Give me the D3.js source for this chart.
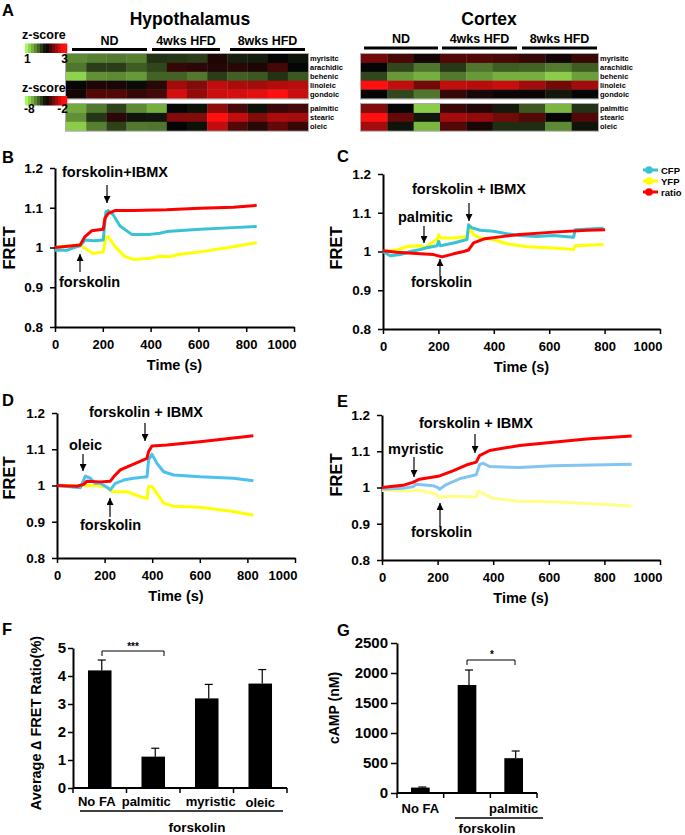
<!DOCTYPE html>
<html><head><meta charset="utf-8">
<script src="https://cdn.jsdelivr.net/npm/d3@7"></script>
<style>
body{margin:0;background:#fff}
svg{font-family:"Liberation Sans",Arial,sans-serif;font-weight:bold}
</style></head>
<body><svg id="c" width="685" height="835"></svg>
<script>
// ---------------- DATA ----------------
const topAcids = ["myrisitc","arachidic","behenic","linoleic","gondoic"];
const bottomAcids = ["palmitic","stearic","oleic"];
const groups = ["ND","4wks HFD","8wks HFD"];
// heat values (-1 green .. 0 black .. 1 red), Hypothalamus 12 samples
const hypoTop = [
 [-0.63,-0.58,-0.55,-0.58,-0.21,-0.23,-0.26,0.10,-0.12,-0.11,0.00,-0.07],
 [-0.53,-0.26,-0.26,-0.41,-0.31,0.19,0.16,0.12,0.14,0.10,0.25,0.00],
 [-0.97,-0.66,-0.63,-0.70,-0.44,-0.44,-0.55,-0.26,-0.43,-0.39,-0.21,-0.39],
 [0.02,0.10,0.08,-0.03,0.14,0.63,0.50,0.75,0.66,0.63,0.69,0.72],
 [0.06,0.31,0.31,0.19,0.25,0.82,0.56,0.78,0.82,0.88,1.00,0.78]];
const hypoBottom = [
 [-0.78,-0.55,-0.29,-0.63,-0.80,0.00,-0.06,0.56,0.27,-0.06,0.21,0.27],
 [-0.66,-0.23,0.14,-0.07,-0.08,0.50,0.50,1.00,0.75,0.50,0.66,0.63],
 [-0.95,-0.58,-0.29,-0.55,-0.53,0.00,-0.06,0.75,0.31,0.14,0.38,0.19]];
// Cortex 9 samples
const cortexTop = [
 [0.44,0.27,0.06,0.31,0.31,0.27,0.19,0.06,0.21],
 [0.00,-0.31,-0.53,-0.24,-0.53,-0.41,-0.44,-0.55,-0.41],
 [-0.31,-0.70,-0.80,-0.55,-0.70,-0.80,-0.80,-0.95,-0.73],
 [1.00,0.75,0.44,0.75,0.72,0.78,0.63,0.44,0.63],
 [0.00,-0.31,-0.53,0.19,0.08,0.03,0.03,-0.09,0.00]];
const cortexBottom = [
 [0.50,0.00,-0.95,0.21,0.12,-0.10,-0.39,-0.84,-0.21],
 [1.00,0.38,-0.08,0.63,0.56,0.44,0.31,0.00,0.31],
 [0.63,-0.07,-0.84,0.31,0.08,-0.19,-0.19,-0.63,-0.07]];

// FRET traces [time(s), value]
const bRatio=[[0,1.0],[105,1.006],[125,1.027],[153,1.042],[202,1.046],[209,1.074],[223,1.086],[251,1.093],[328,1.093],[467,1.095],[607,1.099],[746,1.101],[844,1.106]];
const bCFP=[[0,0.993],[49,0.993],[80,1.0],[105,1.004],[125,1.019],[160,1.017],[202,1.019],[213,1.09],[223,1.093],[244,1.082],[272,1.054],[321,1.033],[397,1.033],[439,1.036],[467,1.04],[607,1.046],[746,1.05],[844,1.053]];
const bYFP=[[0,1.0],[105,1.006],[125,0.998],[160,0.985],[202,0.989],[213,1.027],[223,1.027],[251,1.002],[293,0.977],[328,0.97],[397,0.973],[439,0.978],[481,0.977],[523,0.983],[607,0.989],[746,1.002],[844,1.012]];

const cRatio=[[0,1.002],[50,0.998],[135,0.994],[183,0.992],[213,0.986],[255,0.994],[291,1.0],[309,1.004],[327,1.022],[363,1.032],[435,1.039],[495,1.044],[615,1.05],[736,1.055],[802,1.056]];
const cCFP=[[0,1.0],[26,0.989],[63,0.992],[99,1.0],[135,1.005],[153,1.009],[195,1.015],[201,1.026],[207,1.015],[255,1.022],[303,1.031],[309,1.069],[321,1.061],[351,1.055],[399,1.052],[447,1.046],[495,1.041],[555,1.039],[615,1.041],[688,1.037],[694,1.056],[796,1.06]];
const cYFP=[[0,1.0],[50,1.004],[87,1.013],[135,1.015],[153,1.009],[171,1.02],[195,1.031],[201,1.043],[207,1.035],[255,1.035],[303,1.039],[315,1.061],[327,1.043],[351,1.035],[399,1.031],[447,1.02],[519,1.012],[615,1.009],[688,1.005],[694,1.015],[796,1.018]];

const dRatio=[[0,1.0],[84,0.998],[112,1.003],[126,1.012],[182,1.01],[224,1.012],[238,1.024],[266,1.043],[322,1.059],[378,1.075],[385,1.094],[399,1.109],[462,1.112],[601,1.121],[741,1.131],[825,1.137]];
const dCFP=[[0,1.0],[42,0.997],[98,0.994],[119,1.026],[140,1.02],[161,1.006],[182,1.006],[210,0.995],[224,0.988],[245,1.006],[280,1.015],[322,1.02],[378,1.024],[385,1.071],[399,1.086],[420,1.061],[448,1.038],[490,1.029],[601,1.024],[741,1.02],[825,1.013]];
const dYFP=[[0,1.0],[84,1.0],[168,1.0],[210,0.995],[231,0.983],[294,0.983],[350,0.969],[378,0.964],[385,0.997],[399,0.997],[420,0.978],[448,0.951],[490,0.943],[601,0.94],[741,0.928],[825,0.918]];

const eRatio=[[0,1.0],[75,1.006],[111,1.014],[135,1.023],[207,1.032],[255,1.046],[303,1.062],[339,1.07],[351,1.088],[387,1.102],[495,1.116],[615,1.125],[736,1.134],[898,1.142]];
const eCFP=[[0,0.995],[75,0.998],[111,1.002],[123,1.009],[183,1.005],[201,1.0],[207,0.995],[231,1.008],[279,1.024],[339,1.035],[351,1.063],[363,1.067],[387,1.058],[495,1.055],[615,1.06],[898,1.064]];
const eYFP=[[0,0.992],[111,0.99],[123,0.994],[195,0.982],[207,0.972],[231,0.976],[339,0.974],[345,0.99],[363,0.984],[399,0.97],[495,0.962],[615,0.961],[736,0.956],[898,0.949]];

const fretTicks=[0.8,0.9,1,1.1,1.2];
const timeTicks=[0,200,400,600,800,1000];

const fCats=["No FA","palmitic","myristic","oleic"];
const fMean=[4.2,1.12,3.2,3.73];
const fErr=[0.37,0.3,0.5,0.5];
const fTicks=[0,1,2,3,4,5];

const gCats=["No FA","forskolin","palmitic"];
const gMean=[90,1800,580];
const gErr=[10,250,120];
const gTicks=[0,500,1000,1500,2000,2500];

// ---------------- DRAW ----------------
const svg=d3.select("#c");
const heat=d3.scaleLinear().domain([-1,0,1]).range(["#92d84f","#050505","#ff1010"]);

function txt(x,y,s,size,anchor,extra){
  const t=svg.append("text").attr("x",x).attr("y",y).attr("font-size",size)
    .attr("text-anchor",anchor||"start").text(s);
  if(extra) extra(t);
  return t;
}
// panel letters
[["A",2,16],["B",2,163],["C",337,162],["D",2,406],["E",337,407],["F",2,635],["G",337,636]]
 .forEach(d=>txt(d[1],d[2],d[0],16.5));

// ---- Heatmaps ----
function drawHeat(x0,x1,topData,botData,labelX,lines,lineY,labY,title,titleX){
  const n=topData[0].length;
  const xs=d3.scaleBand().domain(d3.range(n)).range([x0,x1]);
  const yT=d3.scaleBand().domain(topAcids).range([54,98.5]);
  const yB=d3.scaleBand().domain(bottomAcids).range([104,130.7]);
  [[topData,topAcids,yT],[botData,bottomAcids,yB]].forEach(([data,labs,ys])=>{
    data.forEach((row,i)=>{
      svg.selectAll(null).data(row).enter().append("rect")
        .attr("x",(d,j)=>xs(j)).attr("y",ys(labs[i]))
        .attr("width",xs.bandwidth()+0.3).attr("height",ys.bandwidth()+0.3)
        .attr("fill",d=>heat(d));
      txt(labelX,ys(labs[i])+ys.bandwidth()/2+2.7,labs[i],7.5);
    });
    svg.append("rect").attr("x",x0-0.5).attr("y",ys.range()[0]-0.5)
      .attr("width",x1-x0+1).attr("height",ys.range()[1]-ys.range()[0]+1)
      .attr("fill","none").attr("stroke","#aaa").attr("stroke-width",1);
  });
  lines.forEach((l,i)=>{
    svg.append("line").attr("x1",l[0]).attr("x2",l[1]).attr("y1",lineY).attr("y2",lineY)
      .attr("stroke","#000").attr("stroke-width",3);
    txt((l[0]+l[1])/2,labY,groups[i],12.5,"middle");
  });
  txt(titleX,25,title,17.5,"middle");
}
drawHeat(66,308,hypoTop,hypoBottom,310,[[72,147],[152,220],[230,305]],49.5,45,"Hypothalamus",190);
drawHeat(361,598,cortexTop,cortexBottom,600,[[364,438],[442,517],[522,597]],48,43,"Cortex",489);

// z-score legends
function zLegend(ty,by,ly,lo,hi){
  txt(22,ty,"z-score",12.5);
  const steps=d3.range(14).map(i=>-1.15+i*2.3/13);
  const bx=d3.scaleBand().domain(d3.range(14)).range([25,67]);
  svg.selectAll(null).data(steps).enter().append("rect")
    .attr("x",(d,i)=>bx(i)).attr("y",by).attr("width",bx.bandwidth()+0.3).attr("height",9.5)
    .attr("fill",d=>heat(d));
  txt(24,ly,lo,12);
  txt(68,ly,hi,12,"end");
}
zLegend(39,43.5,63,"1","3");
zLegend(92,96,113,"-8","-2");

// ---- FRET panels ----
const defs=svg.append("defs");
defs.append("marker").attr("id","ah").attr("viewBox","0 0 10 10").attr("refX",10).attr("refY",5)
  .attr("markerWidth",7).attr("markerHeight",7).attr("markerUnits","userSpaceOnUse").attr("orient","auto")
  .append("path").attr("d","M0,0L10,5L0,10Z").attr("fill","#000");

function styleAxis(a,fs){
  a.selectAll("text").attr("font-size",fs).attr("font-family","Liberation Sans, Arial").attr("font-weight","bold").attr("fill","#000");
  a.select(".domain").attr("stroke-width",2);
  a.selectAll(".tick line").attr("stroke-width",1.5);
}

function fretPanel(cfg){
  const x=d3.scaleLinear().domain([0,1000]).range([cfg.x0,cfg.x1]);
  const y=d3.scaleLinear().domain([0.8,1.2]).range([cfg.yb,cfg.yt]);
  const ax=svg.append("g").attr("transform",`translate(0,${cfg.yb})`)
    .call(d3.axisBottom(x).tickValues(timeTicks).tickSize(5).tickPadding(8).tickSizeOuter(0).tickFormat(d3.format("d")));
  const ay=svg.append("g").attr("transform",`translate(${cfg.x0},0)`)
    .call(d3.axisLeft(y).tickValues(fretTicks).tickSize(5).tickPadding(7).tickSizeOuter(0)
      .tickFormat(d=>d===1?"1":d3.format(".1f")(d)));
  styleAxis(ax,13); styleAxis(ay,13.5);
  // last label kept inside chart area (as in the original)
  ax.selectAll(".tick").filter(d=>d===1000).select("text").attr("text-anchor","end").attr("x",2);
  const line=d3.line().x(d=>x(d[0])).y(d=>y(d[1]));
  [[cfg.yfp,cfg.cy],[cfg.cfp,cfg.cc],[cfg.ratio,"#ff0000"]].forEach(([data,col])=>{
    svg.append("path").attr("d",line(data)).attr("fill","none").attr("stroke",col)
      .attr("stroke-width",3).attr("stroke-linejoin","round");
  });
  txt((cfg.x0+cfg.x1)/2,cfg.yb+42.5,"Time (s)",14.5,"middle");
  txt(0,0,"FRET",16.5,"middle",t=>t.attr("transform",`translate(${cfg.fretX},${cfg.fretY}) rotate(-90)`));
  cfg.notes.forEach(n=>txt(n[1],n[2],n[0],14.5));
  cfg.arrows.forEach(a=>svg.append("line").attr("x1",a[0]).attr("x2",a[0]).attr("y1",a[1]).attr("y2",a[2])
    .attr("stroke","#000").attr("stroke-width",1.2).attr("marker-end","url(#ah)"));
}

fretPanel({x0:55,x1:294,yt:168,yb:327,ratio:bRatio,cfp:bCFP,yfp:bYFP,cc:"#38c2d6",cy:"#ffff00",
  fretX:15,fretY:248,
  notes:[["forskolin+IBMX",62,177],["forskolin",59,287]],
  arrows:[[107,185,203],[80,272,254]]});
fretPanel({x0:383,x1:660,yt:174,yb:329,ratio:cRatio,cfp:cCFP,yfp:cYFP,cc:"#38c2d6",cy:"#ffff00",
  fretX:342,fretY:248,
  notes:[["palmitic",398,222],["forskolin + IBMX",412,194],["forskolin",411,287]],
  arrows:[[424,226,243],[469,203,221],[440,276,259]]});
fretPanel({x0:57,x1:295,yt:413,yb:558,ratio:dRatio,cfp:dCFP,yfp:dYFP,cc:"#4cc0f0",cy:"#ffff00",
  fretX:15,fretY:478,
  notes:[["oleic",69,450],["forskolin + IBMX",89,417],["forskolin",80,530]],
  arrows:[[83,454,471],[145,423,441],[110,517,498]]});
fretPanel({x0:382,x1:660,yt:415,yb:560,ratio:eRatio,cfp:eCFP,yfp:eYFP,cc:"#84c4f2",cy:"#ffff88",
  fretX:342,fretY:475,
  notes:[["myristic",388,454],["forskolin + IBMX",419,428],["forskolin",411,537]],
  arrows:[[414,457,477],[475,434,453],[440,527,503]]});

// legend C
[["CFP","#38c2d6",170],["YFP","#ffff00",181],["ratio","#ff0000",192]].forEach(l=>{
  svg.append("line").attr("x1",643).attr("x2",658).attr("y1",l[2]).attr("y2",l[2]).attr("stroke",l[1]).attr("stroke-width",3);
  svg.append("circle").attr("cx",649).attr("cy",l[2]).attr("r",3.8).attr("fill",l[1]);
  txt(661,l[2]+3.5,l[0],9.5);
});

// ---- Bar panels ----
function barPanel(cfg){
  const x=d3.scaleBand().domain(cfg.cats).range([cfg.x0,cfg.x1]).paddingInner(cfg.pi).paddingOuter(cfg.po);
  const y=d3.scaleLinear().domain([0,cfg.max]).range([cfg.yb,cfg.yt]);
  const ay=svg.append("g").attr("transform",`translate(${cfg.x0},0)`)
    .call(d3.axisLeft(y).tickValues(cfg.ticks).tickSize(cfg.ts).tickPadding(cfg.tp).tickSizeOuter(0).tickFormat(d3.format("d")));
  styleAxis(ay,15);
  svg.append("line").attr("x1",cfg.x0).attr("x2",cfg.x1).attr("y1",cfg.yb).attr("y2",cfg.yb).attr("stroke","#000").attr("stroke-width",2);
  const step=x.step();
  d3.range(cfg.cats.length+1).forEach(i=>{
    const xx=cfg.x0+i*step;
    svg.append("line").attr("x1",xx).attr("x2",xx).attr("y1",cfg.yb).attr("y2",cfg.yb+5).attr("stroke","#000").attr("stroke-width",1.5);
  });
  cfg.cats.forEach((c,i)=>{
    const cx=x(c)+x.bandwidth()/2, ex=cx+2;
    svg.append("line").attr("x1",ex).attr("x2",ex).attr("y1",y(cfg.mean[i])).attr("y2",y(cfg.mean[i]+cfg.err[i])).attr("stroke","#000").attr("stroke-width",1.2);
    svg.append("line").attr("x1",ex-4).attr("x2",ex+4).attr("y1",y(cfg.mean[i]+cfg.err[i])).attr("y2",y(cfg.mean[i]+cfg.err[i])).attr("stroke","#000").attr("stroke-width",1.2);
    svg.append("rect").attr("x",x(c)).attr("y",y(cfg.mean[i])).attr("width",x.bandwidth())
      .attr("height",cfg.yb-y(cfg.mean[i])).attr("fill","#000");
  });
  return x;
}
const fx=barPanel({cats:fCats,mean:fMean,err:fErr,ticks:fTicks,max:5,x0:73,x1:287,yt:648,yb:788,pi:0.56,po:0.28,ts:5,tp:2});
[-3,-7,4,0].forEach((o,i)=>txt(fx(fCats[i])+fx.bandwidth()/2+o,806+(i===3?1:0),fCats[i],13,"middle"));
svg.append("line").attr("x1",80).attr("x2",283).attr("y1",811).attr("y2",811).attr("stroke","#000").attr("stroke-width",1.5);
txt(197,832,"forskolin",13.5,"middle");
svg.append("path").attr("d","M102,656V651H164V656").attr("fill","none").attr("stroke","#000").attr("stroke-width",1);
txt(133,650,"***",10,"middle");
txt(0,0,"Average  \u2206 FRET Ratio(%)",14.5,"middle",t=>t.attr("transform","translate(41,723) rotate(-90)"));

const gx=barPanel({cats:gCats,mean:gMean,err:gErr,ticks:gTicks,max:2500,x0:397,x1:537,yt:643,yb:793,pi:0.6,po:0.3,ts:6,tp:3});
txt(gx("No FA")+gx.bandwidth()/2,813,"No FA",13,"middle");
txt(gx("palmitic")+gx.bandwidth()/2,813,"palmitic",13,"middle");
svg.append("line").attr("x1",455).attr("x2",543).attr("y1",818).attr("y2",818).attr("stroke","#000").attr("stroke-width",1.5);
txt(487,833,"forskolin",13.5,"middle");
svg.append("path").attr("d","M467,665V660H515V665").attr("fill","none").attr("stroke","#000").attr("stroke-width",1);
txt(492,658,"*",10,"middle");
txt(0,0,"cAMP (nM)",14,"middle",t=>t.attr("transform","translate(339,708) rotate(-90)"));
</script></body></html>
